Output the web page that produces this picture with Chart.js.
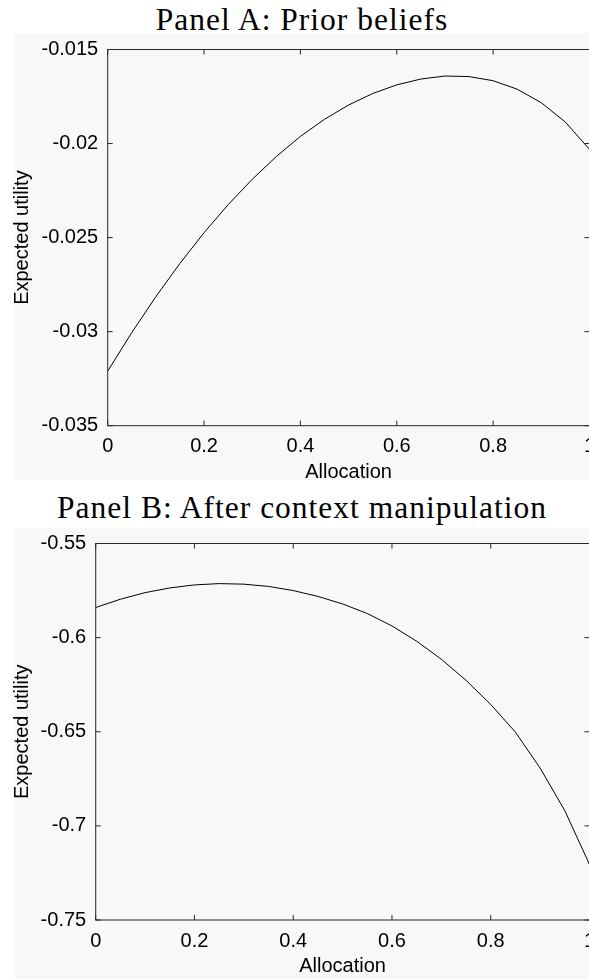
<!DOCTYPE html>
<html>
<head>
<meta charset="utf-8">
<script src="https://cdn.jsdelivr.net/npm/chart.js@4.4.1/dist/chart.umd.min.js"></script>
<style>
  html, body { margin: 0; padding: 0; background: #fff; overflow: hidden; width: 589px; height: 979px; }
  .bg { position: absolute; background: #f8f8f8; }
  .panelTitle {
    position: absolute; left: 0; width: 604px; text-align: center;
    font-family: "Liberation Serif", serif; font-size: 31.5px; line-height: 31.5px;
    letter-spacing: 1px; color: #000; white-space: nowrap;
  }
  canvas { position: absolute; left: 0; }
</style>
</head>
<body>

<div class="panelTitle" style="top:3.6px">Panel A: Prior beliefs</div>
<div class="bg" style="left:15px; top:32.5px; width:600px; height:447.5px"></div>
<canvas id="chartA" width="615" height="458" style="top:28px"></canvas>

<div class="panelTitle" style="top:492px">Panel B: After context manipulation</div>
<div class="bg" style="left:15px; top:528px; width:600px; height:460px"></div>
<canvas id="chartB" width="615" height="458" style="top:522px"></canvas>

<script>
// datos
const allocation = [0, 0.05, 0.1, 0.15, 0.2, 0.25, 0.3, 0.35, 0.4, 0.45, 0.5,
  0.55, 0.6, 0.65, 0.7, 0.75, 0.8, 0.85, 0.9, 0.95, 1];

const priorUtility = [-0.03210, -0.03005, -0.02814, -0.02637, -0.02474, -0.02325, -0.02190,
  -0.02069, -0.01962, -0.01871, -0.01795, -0.01734, -0.01688, -0.01657, -0.01641,
  -0.01644, -0.01666, -0.01711, -0.01783, -0.01886, -0.02031];

const contextUtility = [-0.5840, -0.5796, -0.5761, -0.5736, -0.5720, -0.5713, -0.5716,
  -0.5728, -0.5750, -0.5781, -0.5821, -0.5872, -0.5938, -0.6019, -0.6115,
  -0.6227, -0.6355, -0.6502, -0.6693, -0.6919, -0.7205];

const xTicks = [0, 0.2, 0.4, 0.6, 0.8, 1];
const yTicksA = [-0.035, -0.03, -0.025, -0.02, -0.015];
const yTicksB = [-0.75, -0.7, -0.65, -0.6, -0.55];

const tickFont = { family: '"Liberation Sans", Arial, sans-serif', size: 20 };

// ticks hacia dentro y caja completa, estilo matlab
const boxTicks = {
  id: 'boxTicks',
  afterDatasetsDraw(chart) {
    const { ctx, chartArea: a, scales: { x, y } } = chart;
    const len = 5;
    ctx.save();
    ctx.strokeStyle = '#262626';
    ctx.lineWidth = 1;
    ctx.beginPath();
    x.ticks.forEach(t => {
      const px = x.getPixelForValue(t.value);
      ctx.moveTo(px, a.bottom); ctx.lineTo(px, a.bottom - len);
      ctx.moveTo(px, a.top); ctx.lineTo(px, a.top + len);
    });
    y.ticks.forEach(t => {
      const py = y.getPixelForValue(t.value);
      ctx.moveTo(a.left, py); ctx.lineTo(a.left + len, py);
      ctx.moveTo(a.right, py); ctx.lineTo(a.right - len, py);
    });
    ctx.stroke();
    ctx.strokeRect(a.left, a.top, a.right - a.left, a.bottom - a.top);
    ctx.restore();
  }
};

const makeChart = (id, values, yTicks, yWidth, xHeight) => {
  return new Chart(document.getElementById(id), {
    type: 'line',
    data: {
      datasets: [
        {
          data: allocation.map((a, i) => ({ x: a, y: values[i] })),
          borderColor: '#000',
          borderWidth: 1,
          pointRadius: 0,
          tension: 0,
          fill: false,
        },
      ],
    },
    options: {
      responsive: false,
      animation: false,
      devicePixelRatio: 1,
      layout: { padding: { top: 13.7, right: 25.5, left: 0, bottom: 0 } },
      plugins: { legend: { display: false }, tooltip: { enabled: false } },
      scales: {
        x: {
          type: 'linear',
          min: xTicks[0],
          max: xTicks[xTicks.length - 1],
          afterBuildTicks: s => { s.ticks = xTicks.map(v => ({ value: v })); },
          afterFit: s => { s.height = xHeight; },
          grid: { display: false, drawTicks: false },
          border: { display: false },
          ticks: { color: '#000', font: tickFont, padding: 9, maxRotation: 0, autoSkip: false, callback: v => String(v) },
          title: { display: true, text: 'Allocation', color: '#000', font: tickFont, padding: { top: 0, bottom: 1.7 } },
        },
        y: {
          type: 'linear',
          min: yTicks[0],
          max: yTicks[yTicks.length - 1],
          afterBuildTicks: s => { s.ticks = yTicks.map(v => ({ value: v })); },
          afterFit: s => { s.width = yWidth; },
          grid: { display: false, drawTicks: false },
          border: { display: false },
          ticks: { color: '#000', font: tickFont, padding: 9.5, autoSkip: false, callback: v => String(v) },
          title: { display: true, text: 'Expected utility', color: '#000', font: tickFont, padding: { top: 10, bottom: 0 } },
        },
      },
    },
    plugins: [boxTicks],
  });
};

makeChart('chartA', priorUtility, yTicksA, 107.7, 60.3);
makeChart('chartB', contextUtility, yTicksB, 95.7, 60);
</script>
</body>
</html>
